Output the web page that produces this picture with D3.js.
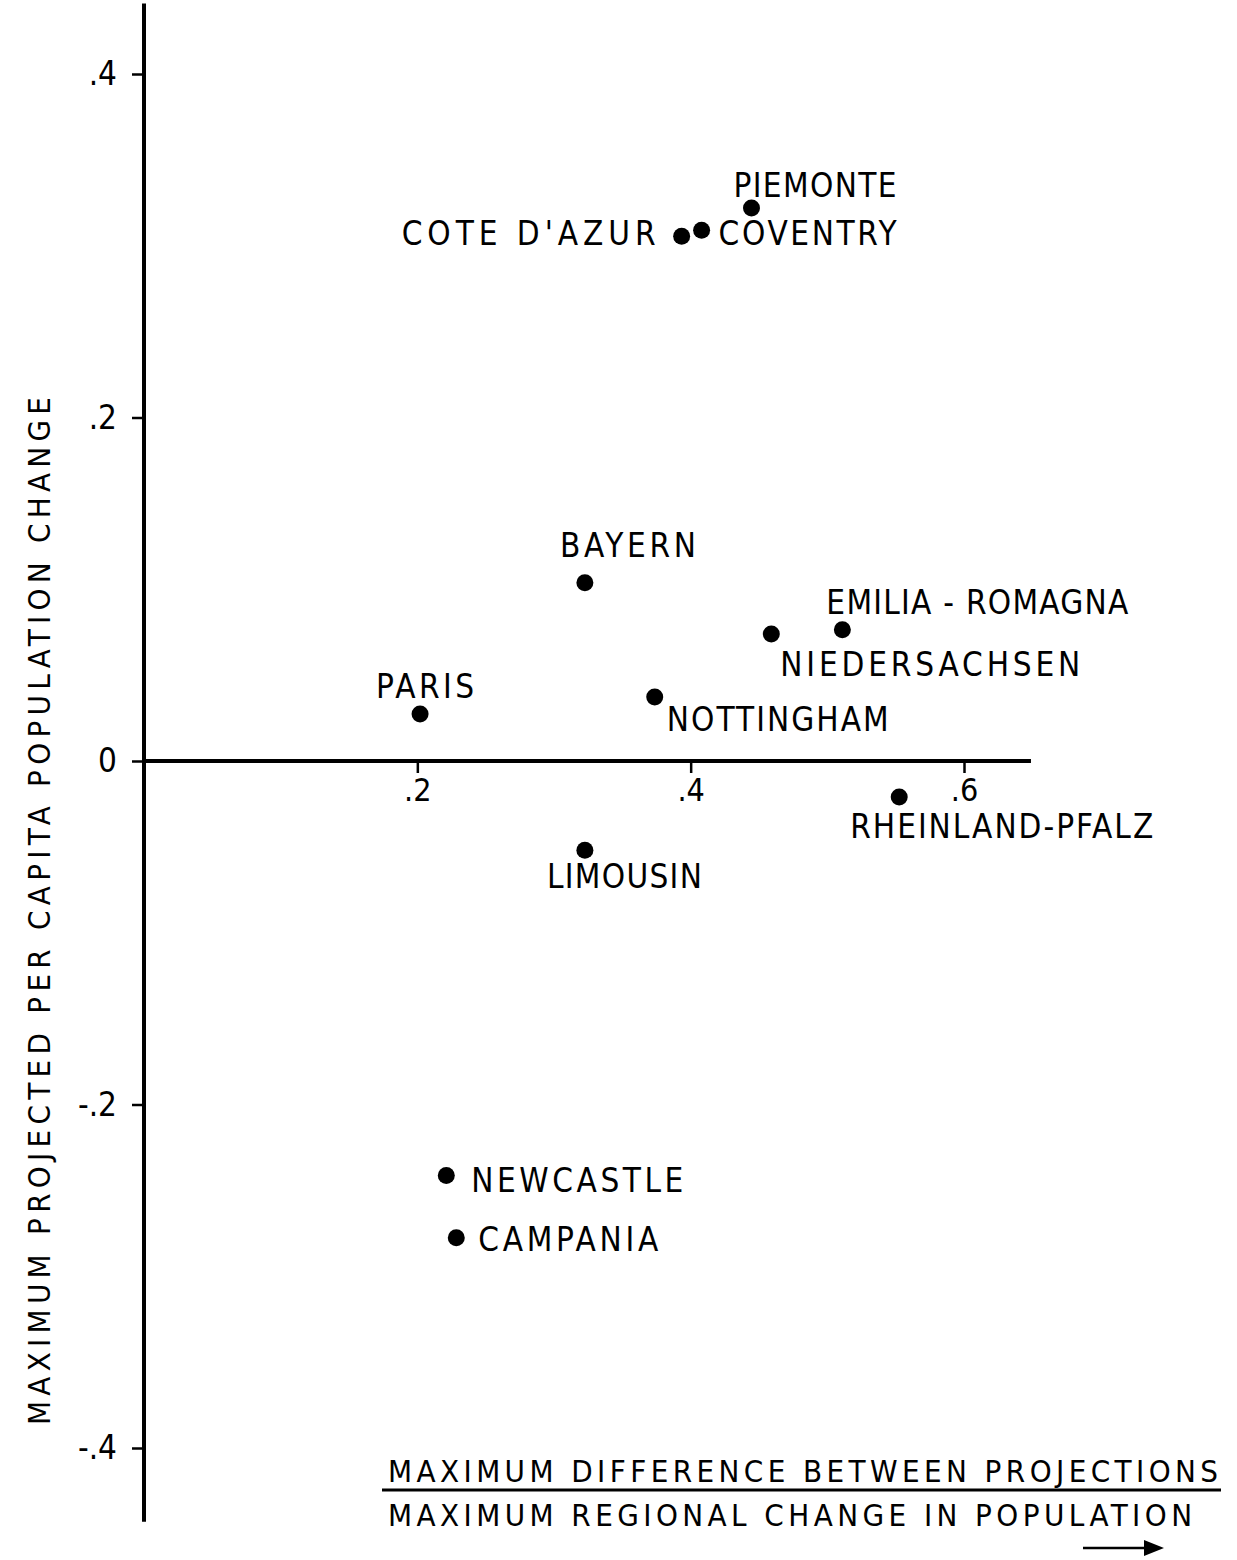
<!DOCTYPE html>
<html>
<head>
<meta charset="utf-8">
<script src="https://cdn.jsdelivr.net/npm/d3@7"></script>
<style>
  body { margin: 0; background: #fff; }
  text { font-family: "DejaVu Sans", "Liberation Sans Narrow", sans-serif; font-stretch: condensed; fill: #000; }
</style>
</head>
<body>
<div id="chart"></div>
<script>
// regions and their values
var regions = ["PIEMONTE", "COTE D'AZUR", "COVENTRY", "BAYERN", "EMILIA - ROMAGNA",
  "NIEDERSACHSEN", "PARIS", "NOTTINGHAM", "RHEINLAND-PFALZ", "LIMOUSIN", "NEWCASTLE", "CAMPANIA"];
var diffRatio = [0.4445, 0.3934, 0.408, 0.3226, 0.511, 0.459, 0.202, 0.3737, 0.5526, 0.3226, 0.2212, 0.2285];
var perCapita = [0.322, 0.3055, 0.309, 0.1038, 0.0764, 0.074, 0.0274, 0.0373, -0.021, -0.0519, -0.2414, -0.2776];

var xTicks = [0.2, 0.4, 0.6];
var yTicks = [-0.4, -0.2, 0, 0.2, 0.4];

// label placement relative to each dot (dx, dy to baseline, anchor, text width)
var labelPos = [
  [-18, -11, "start", 163], [-26, 9, "end", 254], [17, 15, "start", 178],
  [-25, -26, "start", 136], [-16, -16, "start", 302], [9, 42, "start", 300],
  [-44, -16, "start", 98], [12, 34, "start", 222], [-49, 41, "start", 303],
  [-38, 38, "start", 155], [25, 16, "start", 212], [22, 13, "start", 180]
];

var svgWidth = 1237;
var svgHeight = 1560;

var svg = d3.select("#chart")
  .append("svg")
  .attr("width", svgWidth)
  .attr("height", svgHeight);

var x = d3.scaleLinear().domain([0, 0.6]).range([144, 964]);
var y = d3.scaleLinear().domain([0, 0.4]).range([761, 74]);

var fmt = function(d) {
  if (d === 0) return "0";
  return (d < 0 ? "-" : "") + "." + Math.round(Math.abs(d) * 10);
};

// y axis
var yAxis = d3.axisLeft(y).tickValues(yTicks).tickFormat(fmt).tickSize(12).tickPadding(15);
var gy = svg.append("g").attr("transform", "translate(" + x(0) + ",0)").call(yAxis);
gy.select(".domain").remove();
gy.append("line")
  .attr("x1", 0).attr("x2", 0)
  .attr("y1", y(0.441)).attr("y2", y(-0.443))
  .attr("stroke", "#000").attr("stroke-width", 4);
gy.selectAll(".tick line").attr("stroke-width", 2.5);
gy.selectAll(".tick text").style("font-size", "33px").attr("fill", "#000")
  .style("font-family", "'DejaVu Sans', sans-serif").style("font-stretch", "condensed");

// x axis
var xAxis = d3.axisBottom(x).tickValues(xTicks).tickFormat(fmt).tickSize(12).tickPadding(5);
var gx = svg.append("g").attr("transform", "translate(0," + y(0) + ")").call(xAxis);
gx.select(".domain").remove();
gx.append("line")
  .attr("x1", x(0)).attr("x2", x(0.649))
  .attr("y1", 0).attr("y2", 0)
  .attr("stroke", "#000").attr("stroke-width", 4);
gx.selectAll(".tick line").attr("stroke-width", 2.5);
gx.selectAll(".tick text").style("font-size", "32px").attr("fill", "#000")
  .style("font-family", "'DejaVu Sans', sans-serif").style("font-stretch", "condensed");

// dots
svg.selectAll("circle.pt")
  .data(regions)
  .enter()
  .append("circle")
  .attr("class", "pt")
  .attr("cx", function(d, i) { return x(diffRatio[i]); })
  .attr("cy", function(d, i) { return y(perCapita[i]); })
  .attr("r", 8.5)
  .attr("fill", "#000");

// labels
svg.selectAll("text.lbl")
  .data(regions)
  .enter()
  .append("text")
  .attr("class", "lbl")
  .attr("x", function(d, i) { return x(diffRatio[i]) + labelPos[i][0]; })
  .attr("y", function(d, i) { return y(perCapita[i]) + labelPos[i][1]; })
  .attr("text-anchor", function(d, i) { return labelPos[i][2]; })
  .attr("textLength", function(d, i) { return labelPos[i][3]; })
  .attr("lengthAdjust", "spacing")
  .style("font-size", "33px")
  .text(function(d) { return d; });

// y axis title
svg.append("text")
  .attr("transform", "translate(50,911) rotate(-90)")
  .attr("text-anchor", "middle")
  .attr("textLength", 1028)
  .attr("lengthAdjust", "spacing")
  .style("font-size", "31px")
  .text("MAXIMUM  PROJECTED  PER  CAPITA  POPULATION  CHANGE");

// x axis title, written as a fraction
svg.append("text")
  .attr("x", 388).attr("y", 1482)
  .attr("textLength", 830)
  .attr("lengthAdjust", "spacing")
  .style("font-size", "31px")
  .text("MAXIMUM  DIFFERENCE BETWEEN PROJECTIONS");
svg.append("line")
  .attr("x1", 382).attr("x2", 1221)
  .attr("y1", 1490).attr("y2", 1490)
  .attr("stroke", "#000").attr("stroke-width", 3);
svg.append("text")
  .attr("x", 388).attr("y", 1526)
  .attr("textLength", 804)
  .attr("lengthAdjust", "spacing")
  .style("font-size", "31px")
  .text("MAXIMUM  REGIONAL  CHANGE  IN  POPULATION");

// arrow
svg.append("line")
  .attr("x1", 1083).attr("x2", 1148)
  .attr("y1", 1548).attr("y2", 1548)
  .attr("stroke", "#000").attr("stroke-width", 2.5);
svg.append("path")
  .attr("d", "M1144,1540 L1164,1548 L1144,1556 Z")
  .attr("fill", "#000");
</script>
</body>
</html>
